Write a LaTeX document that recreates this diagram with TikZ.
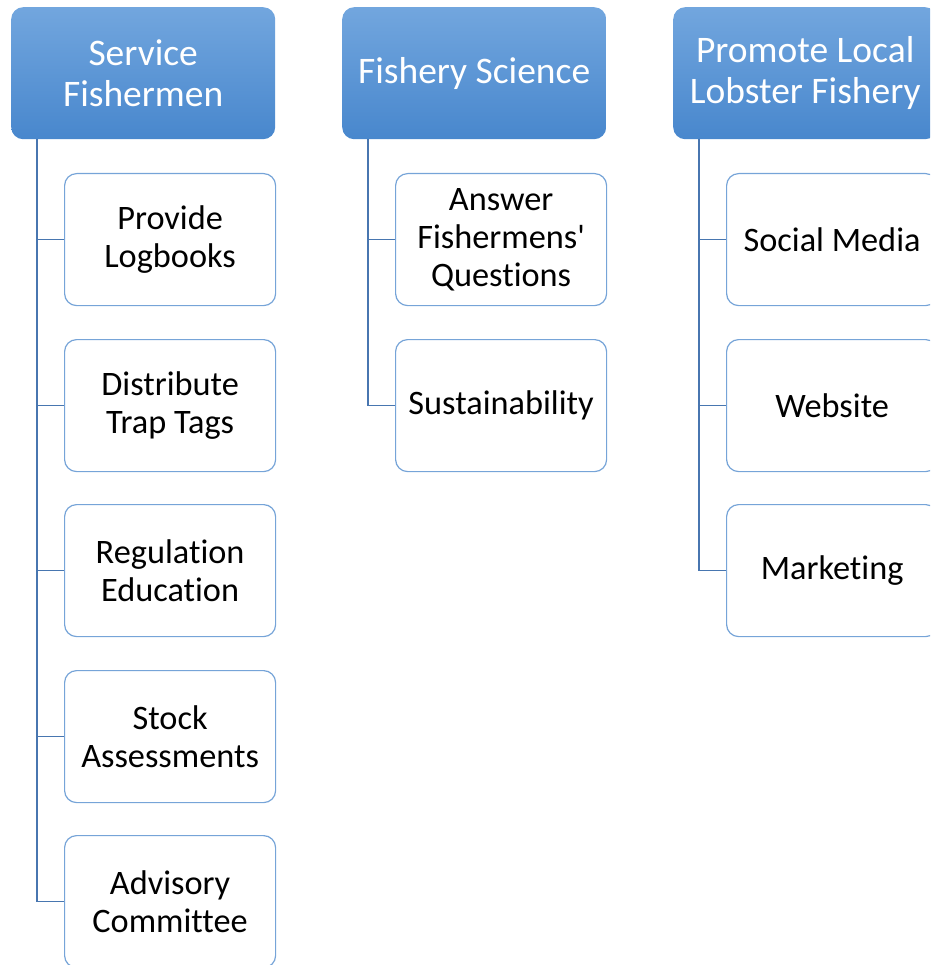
\documentclass[tikz,border=0pt]{standalone}
\usepackage{fontspec}
\setmainfont{Carlito}[Ligatures={TeXOff,NoCommon,NoRare,NoDiscretionary},Contextuals=NoAlternate]
\usetikzlibrary{calc}
\definecolor{headtop}{RGB}{114,166,222}
\definecolor{headbot}{RGB}{72,135,205}
\definecolor{boxline}{RGB}{118,164,216}
\definecolor{connline}{RGB}{72,118,176}
\tikzset{
  head/.style={anchor=north west, rounded corners=12pt, top color=headtop, bottom color=headbot,
    draw=none, minimum width=264pt, minimum height=132pt, inner sep=0pt, align=center,
    text=white, font=\fontsize{37.5}{41}\selectfont},
  leaf/.style={anchor=north west, rounded corners=12pt, draw=boxline, line width=1.2pt, fill=white,
    minimum width=211pt, minimum height=132pt, inner sep=0pt, align=center,
    text=black, font=\fontsize{34.3}{38}\selectfont},
  conn/.style={draw=connline, line width=1.4pt}
}
\begin{document}
\begin{tikzpicture}[x=1pt,y=-1pt]
\useasboundingbox (0,0) rectangle (930,965);
\clip (0,0) rectangle (930,965);
% column headers
\node[head] (h1) at (11,7) {Service\\Fishermen};
\node[head] (h2) at (342,7) {Fishery Science};
\node[head] (h3) at (673,7) {Promote Local\\Lobster Fishery};
% trunk start points below each header
\coordinate (t1) at ($(h1.south west)+(26,0)$);
\coordinate (t2) at ($(h2.south west)+(26,0)$);
\coordinate (t3) at ($(h3.south west)+(26,0)$);
% first column
\node[leaf] (a1) at (64,173) {Provide\\Logbooks};
\node[leaf] (a2) at (64,339) {Distribute\\Trap Tags};
\node[leaf] (a3) at (64,504) {Regulation\\Education};
\node[leaf] (a4) at (64,670) {Stock\\Assessments};
\node[leaf] (a5) at (64,835) {Advisory\\Committee};
% second column
\node[leaf] (b1) at (395,173) {Answer\\Fishermens'\\Questions};
\node[leaf] (b2) at (395,339) {Sustainability};
% third column
\node[leaf] (c1) at (726,173) {Social Media};
\node[leaf] (c2) at (726,339) {Website};
\node[leaf] (c3) at (726,504) {Marketing};
% connectors
\foreach \n in {a1,a2,a3,a4,a5} \draw[conn] (t1) |- (\n.west);
\foreach \n in {b1,b2} \draw[conn] (t2) |- (\n.west);
\foreach \n in {c1,c2,c3} \draw[conn] (t3) |- (\n.west);
\end{tikzpicture}
\end{document}
